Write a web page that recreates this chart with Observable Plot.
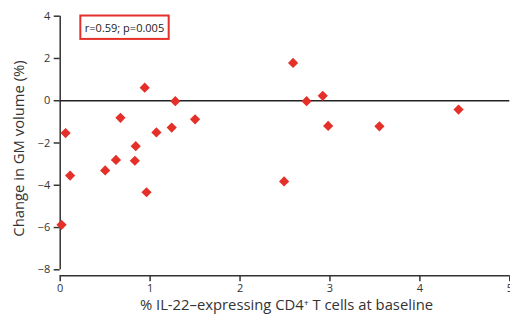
<!DOCTYPE html>
<html><head><meta charset="utf-8">
<script src="https://cdn.jsdelivr.net/npm/d3@7"></script>
<script src="https://cdn.jsdelivr.net/npm/@observablehq/plot@0.6"></script>
<style>
body{margin:0;background:#fff;}
#chart{position:relative;width:510px;height:322px;}
</style></head><body>
<div id="chart"></div>
<script>
const il22 = [0.015,0.06,0.11,0.50,0.62,0.67,0.83,0.84,0.94,0.96,1.07,1.24,1.28,1.50,2.49,2.59,2.74,2.92,2.98,3.55,4.43];
const gmChange = [-5.87,-1.53,-3.54,-3.30,-2.80,-0.81,-2.84,-2.15,0.62,-4.33,-1.50,-1.27,-0.02,-0.88,-3.82,1.79,-0.02,0.23,-1.19,-1.21,-0.42];
const xTicks = [0,1,2,3,4,5];
const yTicks = [4,2,0,-2,-4,-6,-8];
const statText = "r=0.59; p=0.005";
const xLabel = "% IL-22\u2013expressing CD4\u207A T cells at baseline";
const yLabel = "Change in GM volume (%)";

const data = il22.map((x,i)=>({x, y: gmChange[i]}));
const font = "'Open Sans', sans-serif";

const plot = Plot.plot({
  width: 510, height: 322,
  marginLeft: 59.7, marginRight: 0.7, marginTop: 15.7, marginBottom: 52.7,
  style: {fontFamily: font, fontSize: "11px", color: "#333", background: "#fff"},
  x: {domain: [0,5], ticks: xTicks, tickFormat: "d"},
  y: {domain: [-8,4], ticks: yTicks},
  marks: [
    Plot.axisY({ticks: yTicks, tickSize: 6, tickPadding: 4, label: null, stroke: "#333", strokeWidth: 1.5, fontSize: 11}),
    Plot.axisX({ticks: xTicks, tickFormat: "d", tickSize: 6, tickPadding: 2, dy: 6, label: null, stroke: "#333", strokeWidth: 1.5, fontSize: 11}),
    Plot.ruleX([0], {stroke: "#333", strokeWidth: 1.5}),
    Plot.ruleY([-8], {stroke: "#333", strokeWidth: 1.5, dy: 6}),
    Plot.ruleY([0], {stroke: "#222", strokeWidth: 1.3}),
    Plot.dot(data, {x: "x", y: "y", symbol: "diamond2", r: 4.6, fill: "#e5302a", stroke: "none"}),
    Plot.text([yLabel], {frameAnchor: "left", textAnchor: "middle", dx: -41, dy: 5.5, rotate: -90, fontSize: 14.8, fill: "#333", text: d => d}),
    Plot.text([xLabel], {frameAnchor: "bottom", textAnchor: "middle", dx: 1.5, dy: 40, fontSize: 14.8, fill: "#333", text: d => d}),
    Plot.text([statText], {frameAnchor: "top-left", dx: 64.3, dy: 12, textAnchor: "middle", lineAnchor: "middle", fontSize: 11, fill: "#222", text: d => d, className: "stat"})
  ]
});
document.getElementById("chart").appendChild(plot);
// draw the red box round the statistic text
const t = plot.querySelector("g.stat text");
if (t) {
  const b = t.getBBox();
  const rect = document.createElementNS("http://www.w3.org/2000/svg","rect");
  const padX = 4.5, padY = 4.2;
  rect.setAttribute("x", b.x - padX);
  rect.setAttribute("y", b.y - padY);
  rect.setAttribute("width", b.width + 2*padX);
  rect.setAttribute("height", b.height + 2*padY);
  rect.setAttribute("fill", "none");
  rect.setAttribute("stroke", "#e5302a");
  rect.setAttribute("stroke-width", "2");
  const tr = t.getAttribute("transform");
  if (tr) rect.setAttribute("transform", tr);
  t.parentNode.insertBefore(rect, t);
}
</script></body></html>
